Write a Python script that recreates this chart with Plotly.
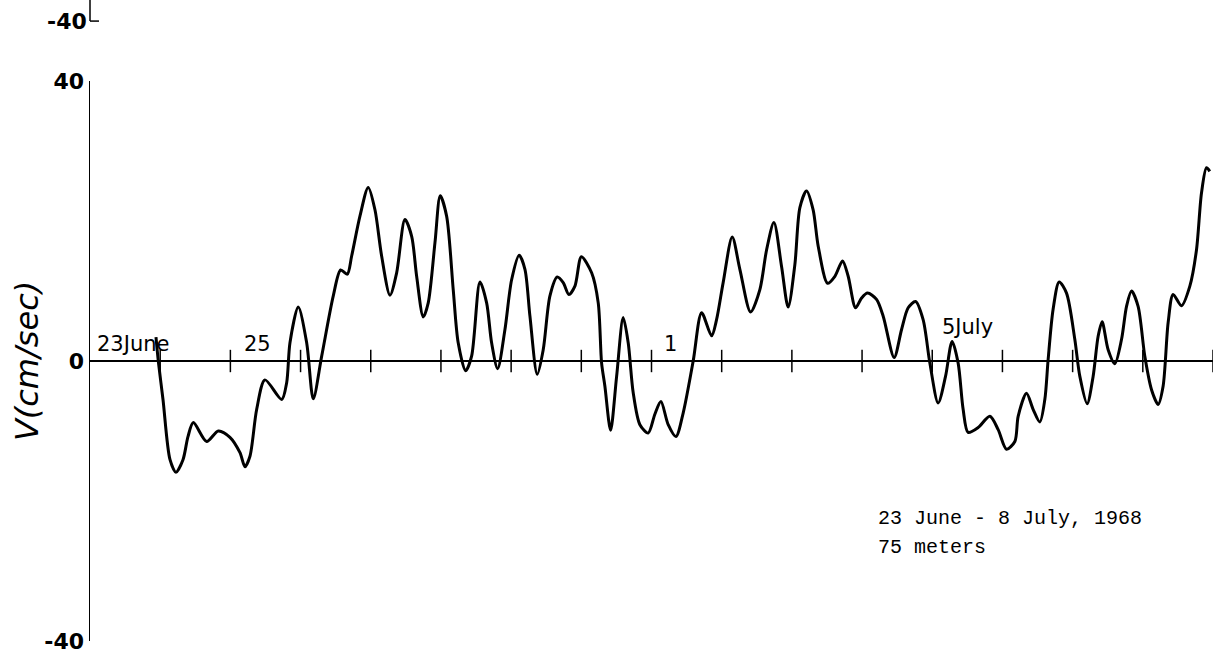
import plotly.graph_objects as go

# Time in days since 00h 23 June 1968, velocity V in cm/sec (75 m)
days = [0.940, 0.973, 1.040, 1.140, 1.225, 1.325, 1.396, 1.472, 1.662, 1.828,
        1.994, 2.137, 2.208, 2.279, 2.375, 2.493, 2.731, 2.802, 2.849, 2.967,
        3.087, 3.181, 3.301, 3.466, 3.571, 3.665, 3.728, 3.846, 3.964, 4.060,
        4.155, 4.274, 4.369, 4.487, 4.583, 4.654, 4.748, 4.819, 4.915, 4.990,
        5.081, 5.175, 5.246, 5.352, 5.437, 5.556, 5.651, 5.722, 5.808, 5.912,
        6.007, 6.115, 6.197, 6.268, 6.372, 6.457, 6.553, 6.657, 6.742, 6.823,
        6.909, 7.001, 7.147, 7.241, 7.289, 7.336, 7.417, 7.503, 7.597, 7.668,
        7.739, 7.835, 7.953, 8.048, 8.134, 8.238, 8.348, 8.452, 8.594, 8.714,
        8.856, 8.927, 9.021, 9.150, 9.259, 9.412, 9.544, 9.640, 9.744, 9.853,
        9.947, 10.043, 10.114, 10.209, 10.303, 10.375, 10.509, 10.613, 10.722, 10.802,
        10.907, 10.993, 11.078, 11.206, 11.301, 11.457, 11.563, 11.657, 11.762, 11.870,
        11.966, 12.084, 12.189, 12.283, 12.369, 12.440, 12.511, 12.654, 12.821, 12.939,
        13.058, 13.177, 13.224, 13.343, 13.437, 13.533, 13.604, 13.651, 13.722, 13.808,
        13.913, 14.031, 14.103, 14.207, 14.292, 14.363, 14.420, 14.506, 14.601, 14.697,
        14.768, 14.839, 14.933, 15.028, 15.124, 15.218, 15.289, 15.361, 15.432, 15.551,
        15.670, 15.765, 15.836, 15.907, 15.954]

velocity = [3.4, 0.0, -5.5, -14.1, -15.9, -14.1, -10.8, -8.8, -11.5, -10.0,
            -10.9, -13.1, -15.1, -13.6, -6.9, -2.7, -5.5, -3.1, 2.6, 7.7,
            2.6, -5.4, 0.7, 9.3, 13.0, 12.4, 15.0, 20.7, 24.8, 21.6,
            15.0, 9.4, 12.6, 20.2, 17.8, 12.1, 6.3, 8.3, 16.9, 23.6,
            20.7, 10.2, 2.6, -1.4, 0.7, 11.3, 8.3, 2.6, -1.1, 4.5,
            11.6, 15.1, 13.1, 6.4, -1.9, 1.6, 9.3, 12.0, 11.2, 9.5,
            10.7, 14.9, 12.6, 8.3, -0.3, -3.6, -9.9, -2.2, 6.2, 2.6,
            -4.5, -9.1, -10.3, -7.6, -5.8, -9.1, -10.8, -7.4, 0.0, 6.9,
            3.6, 5.9, 11.2, 17.7, 13.1, 7.0, 10.2, 15.9, 19.8, 13.5,
            7.7, 13.8, 21.9, 24.3, 21.6, 16.4, 11.1, 12.1, 14.3, 12.1,
            7.6, 9.0, 9.7, 8.8, 6.4, 0.5, 4.5, 7.6, 8.5, 5.9,
            -0.3, -6.0, -2.2, 2.8, -0.3, -6.9, -10.2, -9.5, -7.9, -9.8,
            -12.6, -11.5, -7.9, -4.6, -6.9, -8.7, -5.5, 0.2, 7.4, 11.3,
            9.7, 3.1, -2.2, -6.1, -2.2, 3.5, 5.6, 1.6, -0.4, 3.1,
            7.8, 10.0, 7.8, 0.7, -4.1, -6.2, -3.6, 5.5, 9.5, 7.9,
            10.7, 15.9, 24.0, 27.6, 27.1]

tick_days = list(range(1, 17))
y_tick_values = [-40, 0, 40]
y_tick_labels = ["<b>-40</b>", "<b>0</b>", "<b>40</b>"]
date_labels = ["23June", "25", "1", "5July"]
date_label_days = [0.07, 2.165, 8.15, 12.11]
date_label_levels = [2.4, 2.4, 2.4, 4.8]
note_lines = ["23 June - 8 July, 1968", "75 meters"]
note_levels = [-22.5, -26.7]
y_title = "V(cm/sec)"

fig = go.Figure()

fig.add_trace(go.Scatter(
    x=tick_days, y=[0] * len(tick_days), mode="markers",
    marker=dict(symbol="line-ns", size=16, color="black",
                line=dict(color="black", width=1.5)),
    hoverinfo="skip", showlegend=False))

fig.add_trace(go.Scatter(
    x=days, y=velocity, mode="lines",
    line=dict(color="black", width=3, shape="spline", smoothing=0.8),
    hoverinfo="skip", showlegend=False))

annotations = []
for lab, d, lev in zip(date_labels, date_label_days, date_label_levels):
    annotations.append(dict(x=d, y=lev, xref="x", yref="y", text=lab,
                            showarrow=False, xanchor="left", yanchor="middle",
                            font=dict(family="DejaVu Sans", size=21, color="black")))
for txt, lev in zip(note_lines, note_levels):
    annotations.append(dict(x=11.2, y=lev, xref="x", yref="y", text=txt,
                            showarrow=False, xanchor="left", yanchor="middle",
                            font=dict(family="Liberation Mono", size=20, color="black")))
annotations.append(dict(x=-0.056, y=0.5, xref="paper", yref="paper",
                        text="<i>" + y_title + "</i>", textangle=-90,
                        showarrow=False, xanchor="center", yanchor="middle",
                        font=dict(family="DejaVu Sans", size=32, color="black")))
# bottom of the panel above (its -40 end)
annotations.append(dict(x=0, y=1.107, xref="paper", yref="paper", text="<b>-40</b>",
                        showarrow=False, xanchor="right", yanchor="middle", xshift=-1,
                        font=dict(family="DejaVu Sans", size=22, color="black")))

shapes = [
    dict(type="line", xref="paper", yref="paper", x0=0, x1=0, y0=1.107, y1=1.2,
         line=dict(color="black", width=1.5)),
    dict(type="line", xref="paper", yref="paper", x0=0, x1=0.008, y0=1.107, y1=1.107,
         line=dict(color="black", width=1.5)),
]

fig.update_layout(
    width=1230, height=656,
    margin=dict(l=90, r=17, t=81, b=15, autoexpand=False),
    paper_bgcolor="white", plot_bgcolor="white",
    xaxis=dict(range=[0, 16], visible=False, fixedrange=True, automargin=False),
    yaxis=dict(range=[-40, 40], showline=True, linecolor="black", linewidth=1.5,
               ticks="inside", ticklen=9, tickwidth=1.5, tickcolor="black",
               tickvals=y_tick_values, ticktext=y_tick_labels,
               tickfont=dict(family="DejaVu Sans", size=22, color="black"),
               showgrid=False, zeroline=True, zerolinecolor="black",
               zerolinewidth=1.5, fixedrange=True, automargin=False),
    annotations=annotations,
    shapes=shapes,
    showlegend=False,
)

fig.write_html("out.html",
               config={"displayModeBar": False, "staticPlot": True},
               post_script="document.body.style.margin='0';document.body.style.padding='0';")
